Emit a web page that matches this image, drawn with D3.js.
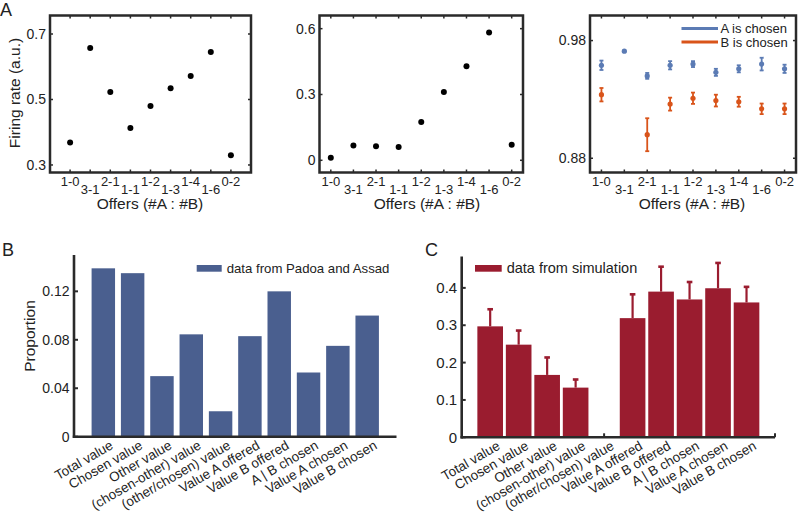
<!DOCTYPE html>
<html><head><meta charset="utf-8">
<script src="https://cdn.jsdelivr.net/npm/d3@7"></script>
<style>
html,body{margin:0;padding:0;background:#fff;}
svg{display:block;font-family:"Liberation Sans",Arial,sans-serif;}
</style></head>
<body>
<svg id="chart" width="798" height="512"></svg>
<script>
// ---------- data ----------
const offers = ["1-0","3-1","2-1","1-1","1-2","1-3","1-4","1-6","0-2"];
const firingA1 = [0.369,0.657,0.523,0.413,0.480,0.534,0.572,0.645,0.330];
const firingA2 = [0.012,0.067,0.064,0.061,0.175,0.311,0.429,0.582,0.071];
const chosenA    = [0.959,0.971,0.950,0.959,0.960,0.953,0.956,0.960,0.956];
const chosenAErr = [0.004,0.0005,0.0025,0.0035,0.0025,0.003,0.003,0.0054,0.0035];
const chosenB    = [0.934,null,0.900,0.926,0.931,0.929,0.928,0.922,0.922];
const chosenBErr = [0.0057,null,0.014,0.0055,0.0048,0.005,0.0042,0.0045,0.0045];
const yTicksA1 = [0.3,0.5,0.7];
const yTicksA2 = [0,0.3,0.6];
const yTicksA3 = [0.88,0.98];
const legendA3 = ["A is chosen","B is chosen"];

const variables = ["Total value","Chosen value","Other value","(chosen-other) value","(other/chosen) value","Value A offered","Value B offered","A | B chosen","Value A chosen","Value B chosen"];
const propPadoa = [0.139,0.135,0.050,0.0845,0.021,0.083,0.120,0.053,0.075,0.100];
const propSim    = [0.297,0.248,0.167,0.133,0,0.319,0.390,0.369,0.399,0.361];
const propSimErr = [0.046,0.038,0.047,0.022,0,0.064,0.067,0.047,0.068,0.042];
const yTicksB = [0,0.04,0.08,0.12];
const yTicksC = [0,0.1,0.2,0.3,0.4];

// ---------- styles ----------
const INK = "#222";
const BOX = "#2a2a2a";
const BLUE_A = "#5b7bb4", RED_A = "#d9541a";
const BLUE_B = "#4a5f8f", RED_C = "#9a1c2f";

const svg = d3.select("#chart");

function boxPanel(o){
  const g = svg.append("g");
  const x = d3.scaleLinear().domain(o.xdom).range([o.x0,o.x1]);
  const y = d3.scaleLinear().domain(o.ydom).range([o.y1,o.y0]);
  const idx = offers.map((d,i)=>i+1);
  const tl = 3;
  g.selectAll(".tb").data(idx).join("line")
    .attr("x1",d=>x(d)).attr("x2",d=>x(d)).attr("y1",o.y1).attr("y2",o.y1-tl)
    .attr("stroke",BOX).attr("stroke-width",1.5);
  g.selectAll(".tt").data(idx).join("line")
    .attr("x1",d=>x(d)).attr("x2",d=>x(d)).attr("y1",o.y0).attr("y2",o.y0+tl)
    .attr("stroke",BOX).attr("stroke-width",1.5);
  g.selectAll(".tlft").data(o.yticks).join("line")
    .attr("x1",o.x0).attr("x2",o.x0+tl).attr("y1",d=>y(d)).attr("y2",d=>y(d))
    .attr("stroke",BOX).attr("stroke-width",1.5);
  g.selectAll(".trgt").data(o.yticks).join("line")
    .attr("x1",o.x1).attr("x2",o.x1-tl).attr("y1",d=>y(d)).attr("y2",d=>y(d))
    .attr("stroke",BOX).attr("stroke-width",1.5);
  g.append("rect").attr("x",o.x0).attr("y",o.y0).attr("width",o.x1-o.x0).attr("height",o.y1-o.y0)
    .attr("fill","none").attr("stroke",BOX).attr("stroke-width",2.5);
  g.selectAll(".yl").data(o.yticks).join("text")
    .attr("x",o.x0-4).attr("y",d=>y(d)).attr("dy","0.35em")
    .attr("text-anchor","end").attr("font-size",14).attr("fill",INK)
    .text(d=>d3.format(o.yfmt)(d));
  g.selectAll(".xl").data(offers).join("text")
    .attr("x",(d,i)=>x(i+1)).attr("y",(d,i)=> i%2===0 ? o.y1+9 : o.y1+17)
    .attr("dy","0.35em").attr("text-anchor","middle").attr("font-size",13).attr("fill",INK)
    .text(d=>d);
  g.append("text").attr("x",o.xlabX).attr("y",o.y1+31.5).attr("dy","0.35em")
    .attr("text-anchor","middle").attr("font-size",15.5).attr("fill",INK)
    .text("Offers (#A : #B)");
  return {g,x,y};
}

// Panel A1
const a1 = boxPanel({x0:50,x1:251,y0:15.5,y1:172.5,xdom:[0,10],ydom:[0.277,0.7565],yticks:yTicksA1,yfmt:".1f",xlabX:150});
a1.g.selectAll(".pt").data(firingA1).join("circle")
  .attr("cx",(d,i)=>a1.x(i+1)).attr("cy",d=>a1.y(d)).attr("r",3).attr("fill","#000");
a1.g.append("text").attr("transform","translate(15,93) rotate(-90)").attr("dy","0.35em")
  .attr("text-anchor","middle").attr("font-size",15.5).attr("fill",INK).text("Firing rate (a.u.)");

// Panel A2
const a2 = boxPanel({x0:319.5,x1:523,y0:15.5,y1:172.5,xdom:[0.5,9.5],ydom:[-0.0556,0.660],yticks:yTicksA2,yfmt:".1~f",xlabX:427});
a2.g.selectAll(".pt").data(firingA2).join("circle")
  .attr("cx",(d,i)=>a2.x(i+1)).attr("cy",d=>a2.y(d)).attr("r",3).attr("fill","#000");

// Panel A3
const a3 = boxPanel({x0:590,x1:796,y0:15.5,y1:172.5,xdom:[0.5,9.5],ydom:[0.8679,1.0013],yticks:yTicksA3,yfmt:".2f",xlabX:692});
function errSeries(vals, errs, color){
  const data = vals.map((v,i)=>({i:i+1,v,e:errs[i]})).filter(d=>d.v!==null);
  const g = a3.g.append("g");
  g.selectAll(".st").data(data).join("line")
    .attr("x1",d=>a3.x(d.i)).attr("x2",d=>a3.x(d.i))
    .attr("y1",d=>a3.y(d.v-d.e)).attr("y2",d=>a3.y(d.v+d.e))
    .attr("stroke",color).attr("stroke-width",1.8);
  ["-","+"].forEach(s=>{
    g.selectAll(".cap"+(s==="-"?"m":"p")).data(data).join("line")
      .attr("x1",d=>a3.x(d.i)-2).attr("x2",d=>a3.x(d.i)+2)
      .attr("y1",d=>a3.y(s==="-"?d.v-d.e:d.v+d.e)).attr("y2",d=>a3.y(s==="-"?d.v-d.e:d.v+d.e))
      .attr("stroke",color).attr("stroke-width",1.8);
  });
  g.selectAll(".mk").data(data).join("circle")
    .attr("cx",d=>a3.x(d.i)).attr("cy",d=>a3.y(d.v)).attr("r",2.6).attr("fill",color);
}
errSeries(chosenA, chosenAErr, BLUE_A);
errSeries(chosenB, chosenBErr, RED_A);
[BLUE_A,RED_A].forEach((c,k)=>{
  const yy = 28.5 + k*13.6;
  a3.g.append("line").attr("x1",681.5).attr("x2",718).attr("y1",yy).attr("y2",yy)
    .attr("stroke",c).attr("stroke-width",3);
  a3.g.append("text").attr("x",720.5).attr("y",yy).attr("dy","0.35em")
    .attr("font-size",13).attr("fill",INK).text(legendA3[k]);
});

svg.append("text").attr("x",0).attr("y",16).attr("font-size",18).attr("fill",INK).text("A");

// ---------- bar panels ----------
function barPanel(o){
  const g = svg.append("g");
  const x = d3.scaleLinear().domain([0,11]).range([o.x0,o.x1]);
  const y = d3.scaleLinear().domain(o.ydom).range([o.yb,o.yt]);
  const bw = (x(1)-x(0))*o.bwFrac;
  const data = o.vals.map((v,i)=>({i:i+1,v,e:o.errs?o.errs[i]:0}));
  if(o.errs){
    const eb = data.filter(d=>d.v>0);
    g.selectAll(".st").data(eb).join("line")
      .attr("x1",d=>x(d.i)).attr("x2",d=>x(d.i)).attr("y1",d=>y(d.v)).attr("y2",d=>y(d.v+d.e))
      .attr("stroke",o.color).attr("stroke-width",2.2);
    g.selectAll(".cap").data(eb).join("rect")
      .attr("x",d=>x(d.i)-2.8).attr("y",d=>y(d.v+d.e)-1.2).attr("width",5.6).attr("height",2.6)
      .attr("fill",o.color);
  }
  g.selectAll(".bar").data(data.filter(d=>d.v>0)).join("rect")
    .attr("x",d=>x(d.i)-bw/2).attr("width",bw).attr("y",d=>y(d.v)).attr("height",d=>y(0)-y(d.v))
    .attr("fill",o.color);
  g.selectAll(".yt").data(o.yticks).join("line")
    .attr("x1",o.x0).attr("x2",o.x0+4).attr("y1",d=>y(d)).attr("y2",d=>y(d))
    .attr("stroke",BOX).attr("stroke-width",2);
  if(o.xtickEmpty){
    g.selectAll(".xt").data(o.xtickEmpty).join("line")
      .attr("x1",d=>x(d)).attr("x2",d=>x(d)).attr("y1",o.yb).attr("y2",o.yb-4)
      .attr("stroke",BOX).attr("stroke-width",2);
  }
  g.append("line").attr("x1",o.x0).attr("x2",o.x0).attr("y1",o.yt).attr("y2",o.yb+1.2)
    .attr("stroke",BOX).attr("stroke-width",2.6);
  g.append("line").attr("x1",o.x0-1.2).attr("x2",o.x1).attr("y1",o.yb).attr("y2",o.yb)
    .attr("stroke",BOX).attr("stroke-width",2.6);
  g.selectAll(".yl").data(o.yticks).join("text")
    .attr("x",o.x0-4.5).attr("y",d=>y(d)).attr("dy","0.35em").attr("text-anchor","end")
    .attr("font-size",o.yfs).attr("fill",INK).text(d=>d3.format(o.yfmt)(d));
  g.selectAll(".xl").data(variables).join("text")
    .attr("transform",(d,i)=>`translate(${x(i+1)+6},${o.yb+3}) rotate(-30)`)
    .attr("text-anchor","end").attr("dominant-baseline","hanging")
    .attr("font-size",13.5).attr("fill",INK).text(d=>d);
  g.append("rect").attr("x",o.lx).attr("y",265).attr("width",o.lw).attr("height",6.7).attr("fill",o.color);
  g.append("text").attr("x",o.lx+o.lw+5).attr("y",268.3).attr("dy","0.35em")
    .attr("font-size",o.lfs).attr("fill",INK).text(o.legend);
  return {g,x,y};
}

barPanel({x0:74,x1:396.5,yt:255,yb:436.7,ydom:[0,0.15],vals:propPadoa,color:BLUE_B,bwFrac:0.8,
  yticks:yTicksB,yfmt:"~g",yfs:14,lx:196.7,lw:25,lfs:13.2,legend:"data from Padoa and Assad"});
svg.append("text").attr("transform","translate(29.5,336) rotate(-90)").attr("dy","0.35em")
  .attr("text-anchor","middle").attr("font-size",15.5).attr("fill",INK).text("Proportion");
svg.append("text").attr("x",2).attr("y",256).attr("font-size",18).attr("fill",INK).text("B");

barPanel({x0:461.7,x1:775,yt:256.5,yb:437.3,ydom:[0,0.484],vals:propSim,errs:propSimErr,color:RED_C,bwFrac:0.9,
  yticks:yTicksC,yfmt:"~g",yfs:15,xtickEmpty:[5,11],lx:475,lw:26.7,lfs:14.5,legend:"data from simulation"});
svg.append("text").attr("x",425).attr("y",256).attr("font-size",18).attr("fill",INK).text("C");
</script>
</body></html>
